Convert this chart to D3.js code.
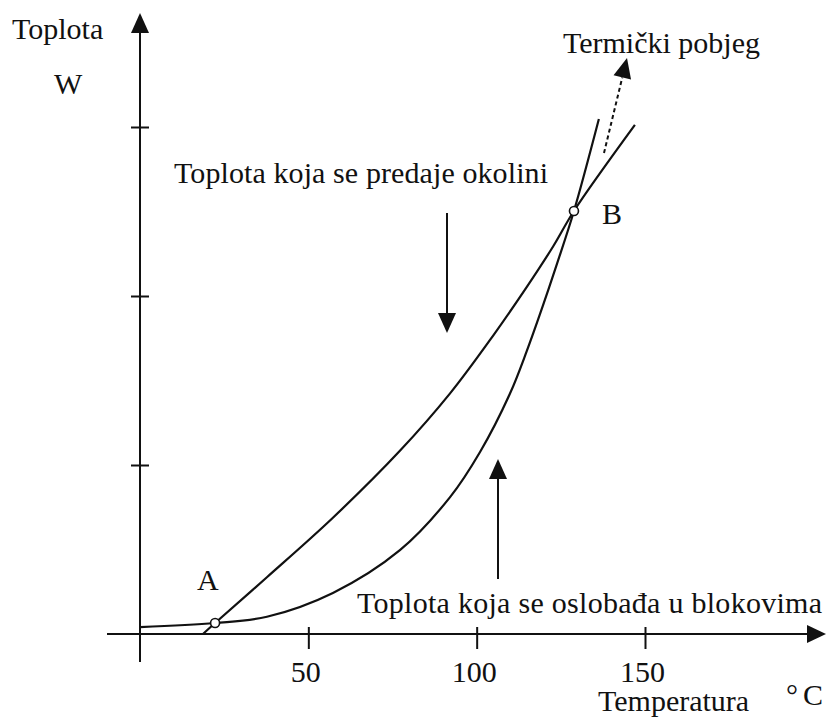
<!DOCTYPE html>
<html lang="en">
<head>
	<meta charset="utf-8">
	<title>Toplota i temperatura</title>
	<script src="https://cdn.jsdelivr.net/npm/d3@7"></script>
	<style>
		body { margin: 0; background: #fff; }
		svg text { font-family: "Liberation Serif", "DejaVu Serif", serif; font-size: 30px; fill: #111; }
		.curve { fill: none; stroke: #111; stroke-width: 2.2; }
		.axis line, .axisline { stroke: #111; stroke-width: 2; }
	</style>
</head>
<body>
	<div id="chart"></div>

	<script>
		// heat released in the blocks (steep curve)
		var tempGen = [0, 22.3, 37.7, 57.3, 77.2, 92.1, 101.0, 109.9, 114.9, 119.7, 123.9, 128.9, 136.3];
		var heatGen = [0.041, 0.065, 0.102, 0.243, 0.496, 0.810, 1.077, 1.423, 1.675, 1.944, 2.193, 2.503, 3.047];

		// heat given off to the surroundings
		var tempLoss = [18.7, 22.3, 37.7, 57.3, 77.2, 92.1, 104.8, 114.9, 122.7, 128.9, 147.0];
		var heatLoss = [0, 0.065, 0.336, 0.688, 1.084, 1.424, 1.763, 2.054, 2.293, 2.503, 3.012];

		// intersection points
		var pointNames = ["A", "B"];
		var pointTemp = [22.3, 128.9];
		var pointHeat = [0.065, 2.503];

		var xTicks = [50, 100, 150];
		var yTicks = [1, 2, 3];

		var w = 826,
		    h = 717;

		var svg = d3.select("#chart")
			.append("svg")
			.attr("width", w)
			.attr("height", h);

		svg.append("rect").attr("width", w).attr("height", h).attr("fill", "#fff");

		var x = d3.scaleLinear().domain([0, 150]).range([140, 645]);
		var y = d3.scaleLinear().domain([0, 3]).range([634, 127]);

		function tri(cx, cy, dir, len, half) {
			// triangle with tip at (cx, cy) pointing along dir (radians)
			var bx = cx - Math.cos(dir) * len, by = cy - Math.sin(dir) * len;
			var px = -Math.sin(dir) * half, py = Math.cos(dir) * half;
			return "M" + cx + "," + cy + "L" + (bx + px) + "," + (by + py) + "L" + (bx - px) + "," + (by - py) + "Z";
		}

		// axis lines with arrows
		svg.append("line").attr("class", "axisline")
			.attr("x1", 107).attr("x2", 812).attr("y1", y(0)).attr("y2", y(0));
		svg.append("path").attr("d", tri(826, y(0), 0, 19, 9)).attr("fill", "#111");

		svg.append("line").attr("class", "axisline")
			.attr("x1", x(0)).attr("x2", x(0)).attr("y1", 662).attr("y2", 28);
		svg.append("path").attr("d", tri(x(0), 13, -Math.PI / 2, 20, 9)).attr("fill", "#111");

		// x ticks
		var gx = svg.append("g").attr("class", "axis")
			.attr("transform", "translate(0," + y(0) + ")")
			.call(d3.axisBottom(x).tickValues(xTicks).tickSizeOuter(0).tickFormat(d3.format("d")));
		gx.select(".domain").remove();
		gx.attr("font-family", null).attr("font-size", null);
		gx.selectAll(".tick line").attr("y1", -7).attr("y2", 15);
		gx.selectAll(".tick text")
			.attr("y", 48).attr("dy", null).attr("dx", -3)
			.attr("fill", "#111");

		// y ticks
		var gy = svg.append("g").attr("class", "axis")
			.attr("transform", "translate(" + x(0) + ",0)")
			.call(d3.axisLeft(y).tickValues(yTicks).tickSizeOuter(0).tickFormat(""));
		gy.select(".domain").remove();
		gy.selectAll(".tick line").attr("x1", -9).attr("x2", 9);

		// curves
		var line = d3.line()
			.x(function(d) { return x(d[0]); })
			.y(function(d) { return y(d[1]); })
			.curve(d3.curveCatmullRom.alpha(0.5));

		svg.append("path").attr("class", "curve")
			.attr("d", line(d3.zip(tempLoss, heatLoss)));
		svg.append("path").attr("class", "curve")
			.attr("d", line(d3.zip(tempGen, heatGen)));

		// points A and B
		svg.selectAll(".pt")
			.data(pointNames)
			.enter()
			.append("circle")
			.attr("class", "pt")
			.attr("cx", function(d, i) { return x(pointTemp[i]); })
			.attr("cy", function(d, i) { return y(pointHeat[i]); })
			.attr("r", 4.5)
			.attr("fill", "#fff")
			.attr("stroke", "#111")
			.attr("stroke-width", 1.6);

		svg.append("text").attr("x", x(pointTemp[0]) - 18).attr("y", 590).text(pointNames[0]);
		svg.append("text").attr("x", x(pointTemp[1]) + 28).attr("y", 224).text(pointNames[1]);

		// pointer arrows
		function arrow(x1, y1, x2, y2, dashed) {
			var dir = Math.atan2(y2 - y1, x2 - x1);
			var len = 20;
			svg.append("line")
				.attr("x1", x1).attr("y1", y1)
				.attr("x2", x2 - Math.cos(dir) * len).attr("y2", y2 - Math.sin(dir) * len)
				.attr("stroke", "#111").attr("stroke-width", 2)
				.attr("stroke-dasharray", dashed ? "4,3" : null);
			svg.append("path").attr("d", tri(x2, y2, dir, len, 9)).attr("fill", "#111");
		}
		arrow(447, 213, 447, 333, false);
		arrow(498, 579, 498, 459, false);
		arrow(604, 153, 627, 58, true);

		// labels
		svg.append("text").attr("x", 12).attr("y", 39).text("Toplota");
		svg.append("text").attr("x", 54).attr("y", 94).text("W");
		svg.append("text").attr("x", 563).attr("y", 53).text("Termički pobjeg");
		svg.append("text").attr("x", 174).attr("y", 183).attr("textLength", 374).text("Toplota koja se predaje okolini");
		svg.append("text").attr("x", 357).attr("y", 613).attr("textLength", 465).text("Toplota koja se oslobađa u blokovima");
		svg.append("text").attr("x", 598).attr("y", 711).text("Temperatura");
		svg.append("text").attr("x", 786).attr("y", 705).text("°");
		svg.append("text").attr("x", 803).attr("y", 705).text("C");
	</script>
</body>
</html>
